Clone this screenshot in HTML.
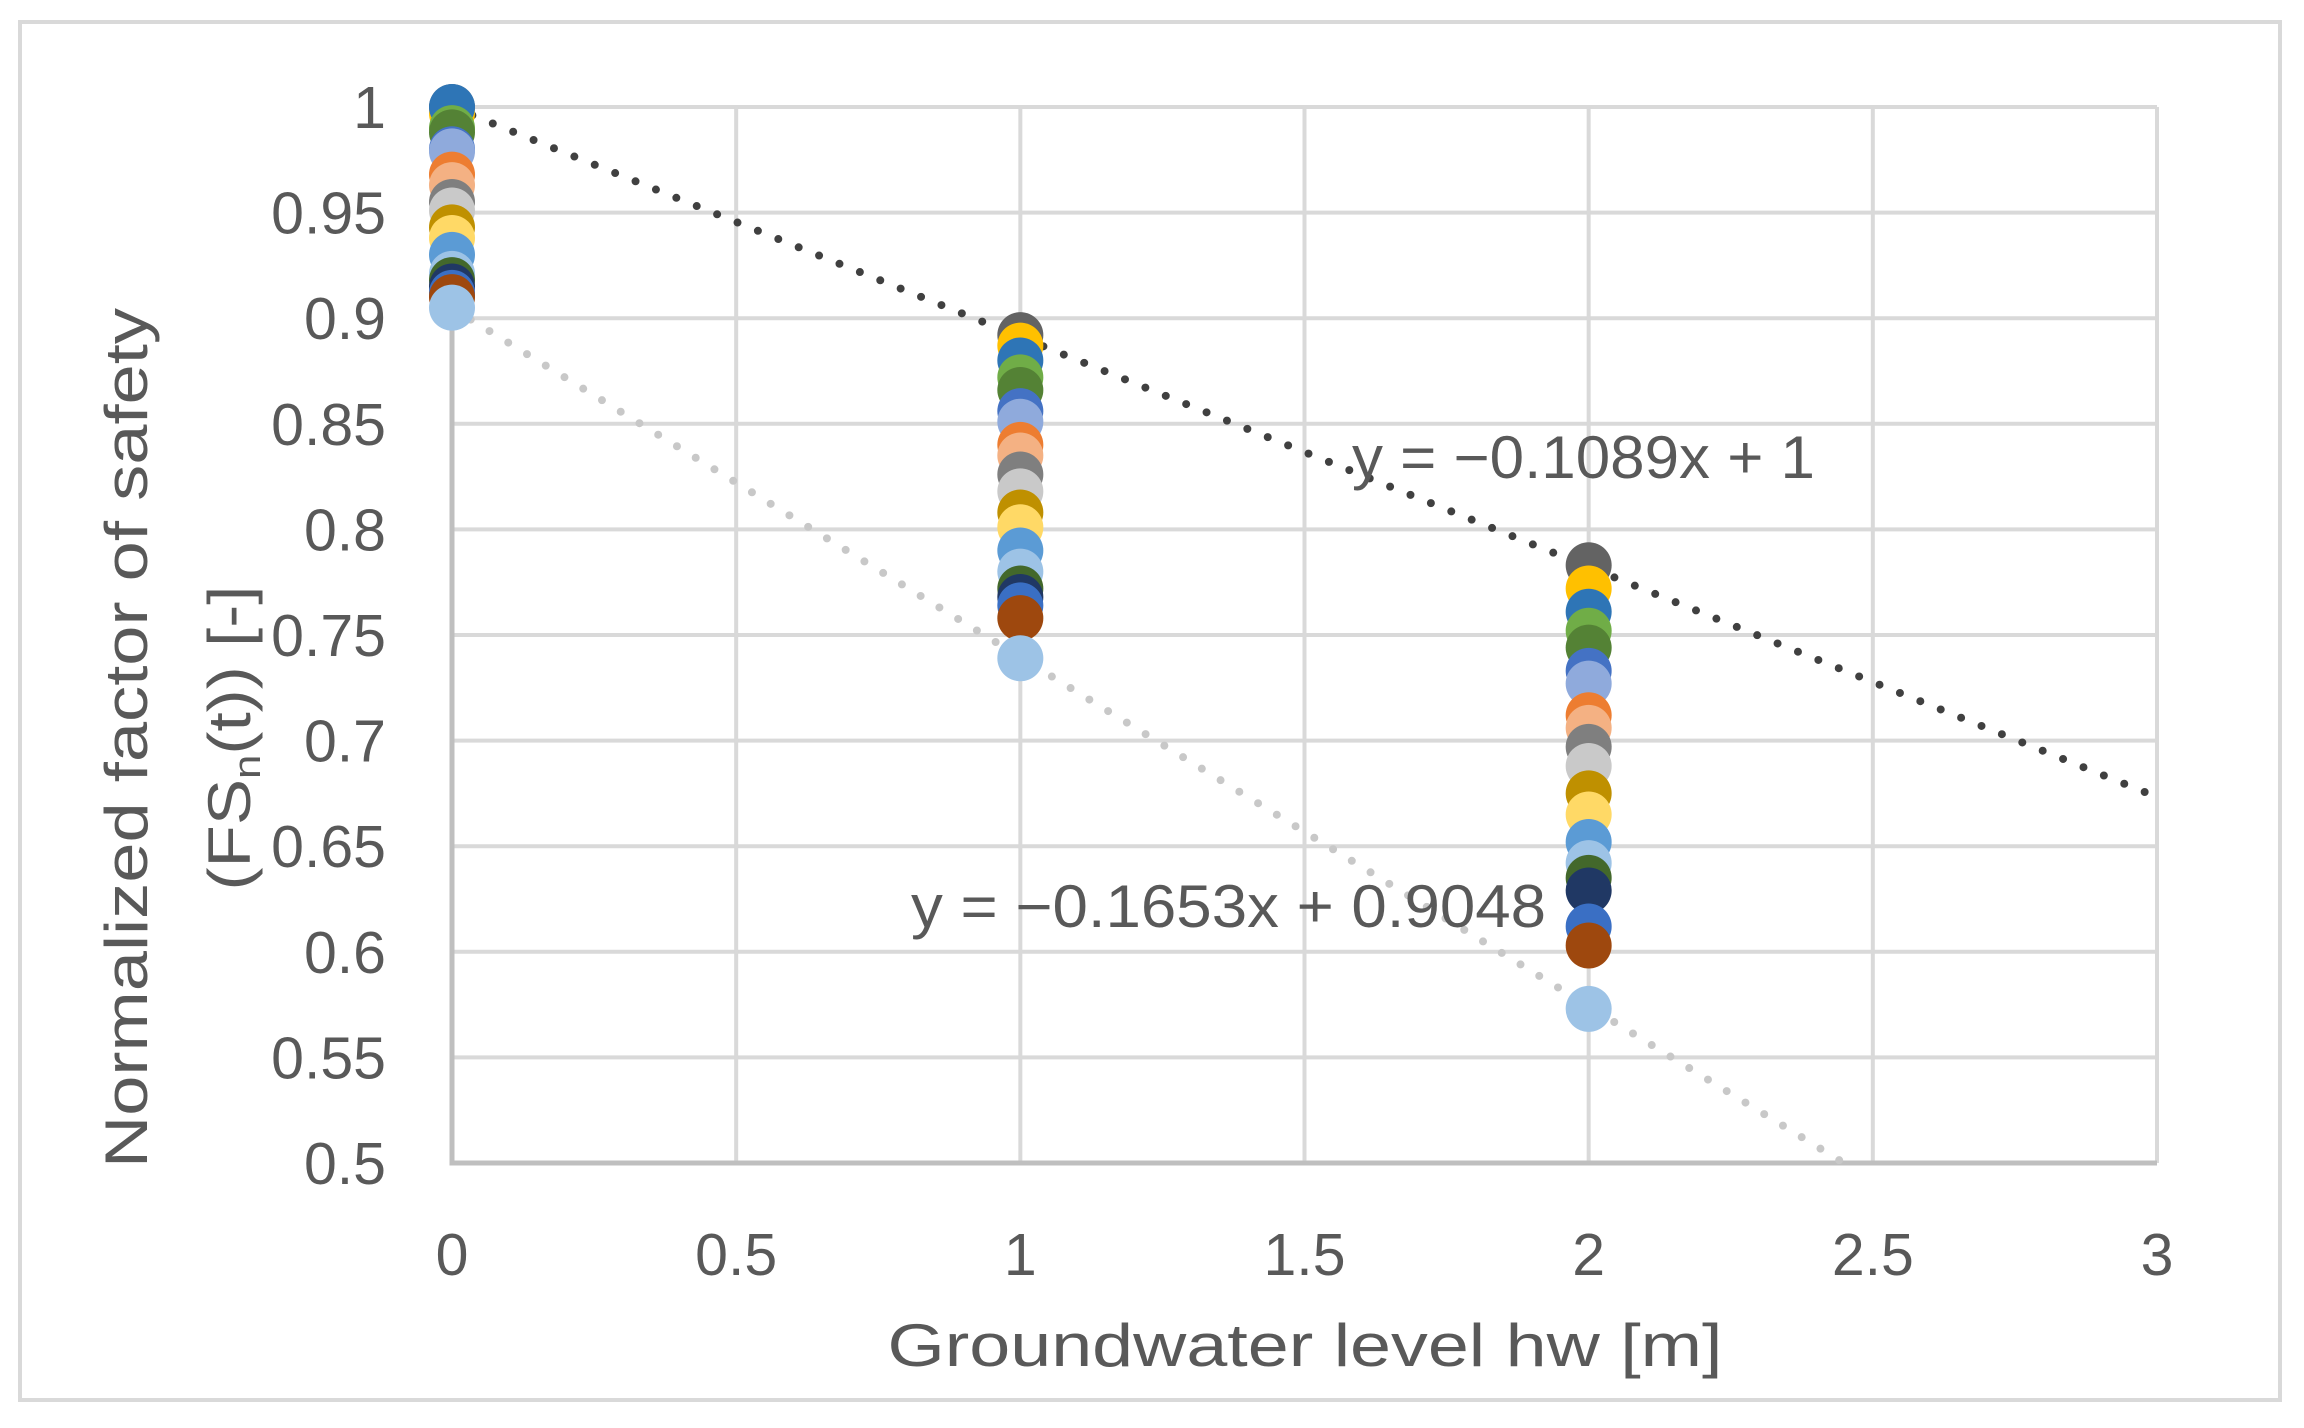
<!DOCTYPE html>
<html><head><meta charset="utf-8"><style>
html,body{margin:0;padding:0;background:#fff;}
svg{display:block;}
text{font-family:"Liberation Sans",sans-serif;fill:#595959;}
</style></head><body>
<svg id="chart" width="2304" height="1428" viewBox="0 0 2304 1428" xmlns="http://www.w3.org/2000/svg">
<rect x="20" y="22" width="2260" height="1378" fill="#fff" stroke="#d9d9d9" stroke-width="4"/>
<g id="grid"></g>
<g id="trend"></g>
<g id="marks"></g>
<g id="ticks"></g>
<text x="1305" y="1366" font-size="60" text-anchor="middle" textLength="835" lengthAdjust="spacingAndGlyphs">Groundwater level hw [m]</text>
<g transform="translate(0,738) rotate(-90)">
<text x="0" y="147" font-size="60" text-anchor="middle" textLength="860" lengthAdjust="spacingAndGlyphs">Normalized factor of safety</text>
<text x="0" y="250" font-size="60" text-anchor="middle" textLength="305" lengthAdjust="spacingAndGlyphs">(FS<tspan font-size="38" dy="10">n</tspan><tspan dy="-10">(t)) [-]</tspan></text>
</g>
<text x="1352" y="478" font-size="60" textLength="463" lengthAdjust="spacingAndGlyphs">y = −0.1089x + 1</text>
<text x="911" y="927" font-size="60" textLength="635" lengthAdjust="spacingAndGlyphs">y = −0.1653x + 0.9048</text>
</svg>
<script>
const xValues = [0, 1, 2];
const seriesColors = ['#636363','#FFC000','#2E75B6','#70AD47','#548235','#4472C4','#8FAADC','#ED7D31','#F4B183','#7F7F7F','#C9C9C9','#BF9000','#FFD966','#5B9BD5','#9DC3E6','#43682B','#203864','#3A6FC4','#9E480E','#9DC3E6'];
const seriesAt0 = [1.000,0.997,1.000,0.990,0.988,0.980,0.979,0.968,0.963,0.955,0.951,0.943,0.938,0.930,0.921,0.918,0.915,0.912,0.910,0.905];
const seriesAt1 = [0.892,0.887,0.880,0.872,0.866,0.856,0.851,0.840,0.835,0.826,0.818,0.808,0.801,0.790,0.780,0.772,0.768,0.764,0.758,0.739];
const seriesAt2 = [0.783,0.772,0.761,0.752,0.744,0.733,0.727,0.712,0.706,0.697,0.688,0.675,0.665,0.652,0.642,0.635,0.629,0.612,0.603,0.573];
const xTicks = ['0','0.5','1','1.5','2','2.5','3'];
const yTicks = ['0.5','0.55','0.6','0.65','0.7','0.75','0.8','0.85','0.9','0.95','1'];
const trendUpper = [-0.1089, 1];
const trendLower = [-0.1653, 0.9048];

const X0=452, X1=2157, Y0=1163, Y1=107, xMin=0, xMax=3, yMin=0.5, yMax=1;
const sx = v => X0 + (v-xMin)/(xMax-xMin)*(X1-X0);
const sy = v => Y0 - (v-yMin)/(yMax-yMin)*(Y0-Y1);
const NS='http://www.w3.org/2000/svg';
function mk(tag, attrs, parent){const e=document.createElementNS(NS,tag);for(const k in attrs)e.setAttribute(k,attrs[k]);parent.appendChild(e);return e;}
const grid=document.getElementById('grid'), ticks=document.getElementById('ticks'), marks=document.getElementById('marks'), trend=document.getElementById('trend');
yTicks.forEach(t=>{const y=sy(parseFloat(t));
  const l=mk('line',{x1:X0,x2:X1,y1:y,y2:y,stroke:'#d9d9d9','stroke-width':4},grid);
  
  
  const tx=mk('text',{x:386,y:y+21,'font-size':59,'text-anchor':'end'},ticks);tx.textContent=t;
  
  
});
xTicks.forEach(t=>{const x=sx(parseFloat(t));
  const l=mk('line',{x1:x,x2:x,y1:Y1,y2:Y0,stroke:'#d9d9d9','stroke-width':4},grid);
  
  
  const tx=mk('text',{x:x,y:1275,'font-size':59,'text-anchor':'middle'},ticks);tx.textContent=t;
  
  
});
const ax=mk('path',{d:`M${X0} ${Y1} V${Y0} H${X1}`,fill:'none',stroke:'#bfbfbf','stroke-width':5},grid);


function trendLine(c, color, name){
  let xe=xMax, ye=c[0]*xe+c[1];
  if(ye<yMin){xe=(yMin-c[1])/c[0]; ye=yMin;}
  const l=mk('line',{x1:sx(0),y1:sy(c[1]),x2:sx(xe),y2:sy(ye),stroke:color,'stroke-width':8,'stroke-dasharray':'0 22','stroke-linecap':'round'},trend);
  
  
}
trendLine(trendUpper,'#404040','trendline-upper');
trendLine(trendLower,'#c8c8c8','trendline-lower');
const cols=[seriesAt0,seriesAt1,seriesAt2];
seriesColors.forEach((c,i)=>{
  xValues.forEach((xv,j)=>{
    const m=mk('circle',{cx:sx(xv),cy:sy(cols[j][i]),r:23,fill:c},marks);
    
    
  });
});
</script>
</body></html>
